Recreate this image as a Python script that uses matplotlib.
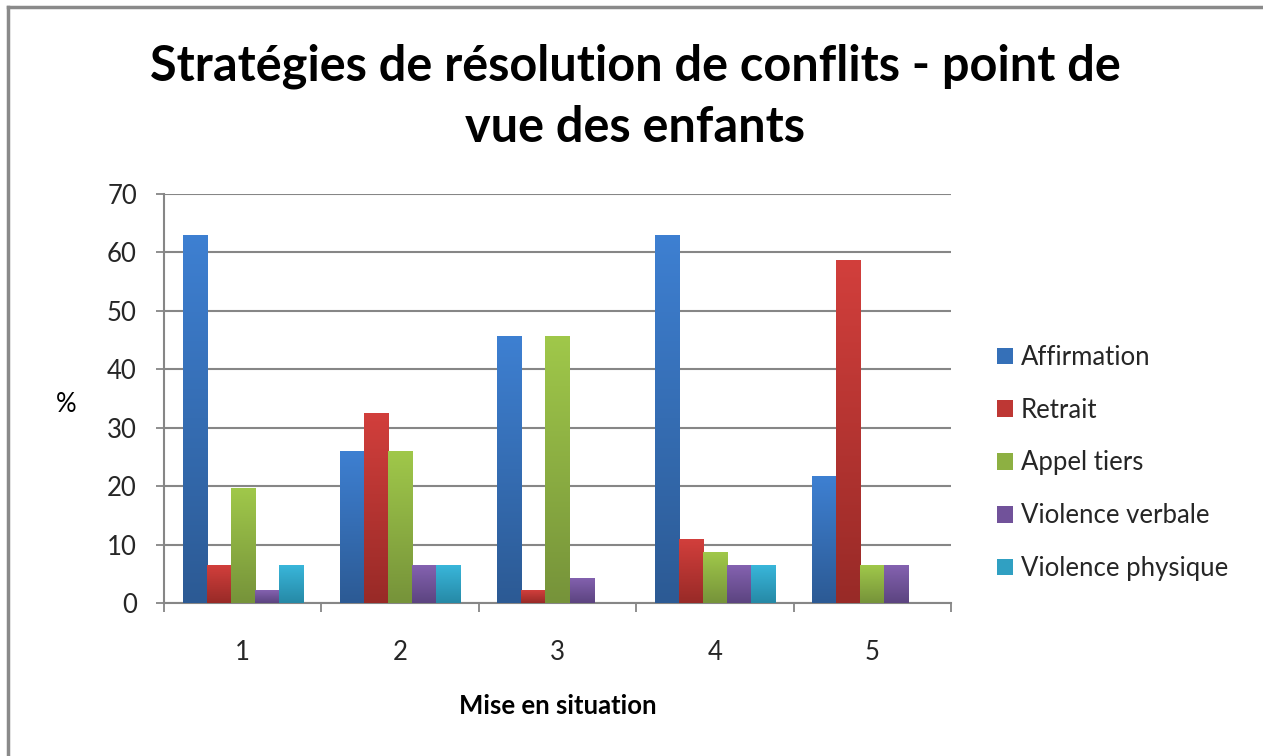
import matplotlib
matplotlib.use("Agg")
import matplotlib.pyplot as plt
import numpy as np
from matplotlib.colors import LinearSegmentedColormap
from matplotlib.patches import Patch
from matplotlib.lines import Line2D

categories = ["1", "2", "3", "4", "5"]
series_names = ["Affirmation", "Retrait", "Appel tiers", "Violence verbale", "Violence physique"]
affirmation = [63.0, 26.1, 45.7, 63.0, 21.7]
retrait = [6.5, 32.6, 2.2, 10.9, 58.7]
appel_tiers = [19.6, 26.1, 45.7, 8.7, 6.5]
violence_verbale = [2.2, 6.5, 4.3, 6.5, 6.5]
violence_physique = [6.5, 6.5, 0.0, 6.5, 0.0]
yticks = [0, 10, 20, 30, 40, 50, 60, 70]

series = [affirmation, retrait, appel_tiers, violence_verbale, violence_physique]
top_colors = ["#3E80D2", "#D23F3C", "#A0C84A", "#8462B0", "#39B6DA"]
bot_colors = ["#2C5A94", "#982A27", "#76933A", "#5C4480", "#2689A6"]
legend_colors = ["#3570B8", "#BE3734", "#8DB042", "#71529A", "#30A0C2"]

plt.rcParams['font.family'] = ['Lato', 'DejaVu Sans']

fig = plt.figure(figsize=(12.63, 7.56), dpi=100)
W, H = 1263, 756
ax = fig.add_axes([164 / W, (756 - 603) / H, (951 - 164) / W, (603 - 194) / H])

FS = 18.5
n = len(series)
bw = 0.1525
x = np.arange(len(categories))
grad = np.linspace(1, 0, 256).reshape(-1, 1)
for i, vals in enumerate(series):
    offs = (i - (n - 1) / 2) * bw
    bars = ax.bar(x + offs, vals, width=bw, color=legend_colors[i], linewidth=0, zorder=3)
    cmap = LinearSegmentedColormap.from_list(f"g{i}", [bot_colors[i], top_colors[i]])
    for b in bars:
        h = b.get_height()
        if h <= 0:
            continue
        x0 = b.get_x()
        im = ax.imshow(grad, extent=[x0, x0 + bw, 0, h], aspect='auto', cmap=cmap,
                       origin='upper', zorder=4, interpolation='bilinear')
        im.set_clip_path(b)

ax.set_xlim(-0.5, len(categories) - 0.5)
ax.set_ylim(0, 70)
ax.set_yticks(yticks)
ax.set_yticklabels([str(v) for v in yticks], fontsize=FS, color="#262626")
ax.set_xticks(x)
ax.set_xticklabels(categories, fontsize=FS, color="#262626")
ax.tick_params(axis='x', length=0, pad=27)
ax.set_xticks(np.arange(-0.5, len(categories), 1.0), minor=True)
ax.tick_params(axis='x', which='minor', length=6.5, width=1.3, color="#868686", direction='out')
ax.tick_params(axis='y', length=6, width=1.3, color="#868686", direction='out', pad=13.5)
ax.yaxis.grid(True, color="#868686", linewidth=1.5, zorder=0)
ax.set_axisbelow(True)
for s in ["top", "right"]:
    ax.spines[s].set_visible(False)
for s in ["left", "bottom"]:
    ax.spines[s].set_color("#868686")
    ax.spines[s].set_linewidth(1.5)

fig.text(558 / W, 1 - 706 / H, "Mise en situation", ha='center', va='center',
         fontsize=FS, fontweight='bold', color="#000000")
fig.text(66 / W, 1 - 405 / H, "%", ha='center', va='center', fontsize=FS, color="#000000")
fig.text(635 / W, 1 - 66 / H, "Stratégies de résolution de conflits - point de", ha='center',
         va='center', fontsize=35, fontweight='bold', color="#000000")
fig.text(635 / W, 1 - 128 / H, "vue des enfants", ha='center', va='center',
         fontsize=35, fontweight='bold', color="#000000")

handles = [Patch(facecolor=c, edgecolor='none') for c in legend_colors]
leg = fig.legend(handles, series_names, loc='upper left', bbox_to_anchor=(997 / W, 1 - 345 / H),
                 frameon=False, fontsize=FS, handlelength=0.62, handleheight=0.62,
                 handletextpad=0.3, labelspacing=1.08, borderaxespad=0, borderpad=0)
for t in leg.get_texts():
    t.set_color("#262626")

fig.add_artist(Line2D([8 / W, 8 / W], [0, 1 - 7 / H], color="#8a8a8a", linewidth=2.5))
fig.add_artist(Line2D([8 / W, 1], [1 - 7 / H, 1 - 7 / H], color="#8a8a8a", linewidth=2.5))

fig.savefig("out.png", dpi=100)
